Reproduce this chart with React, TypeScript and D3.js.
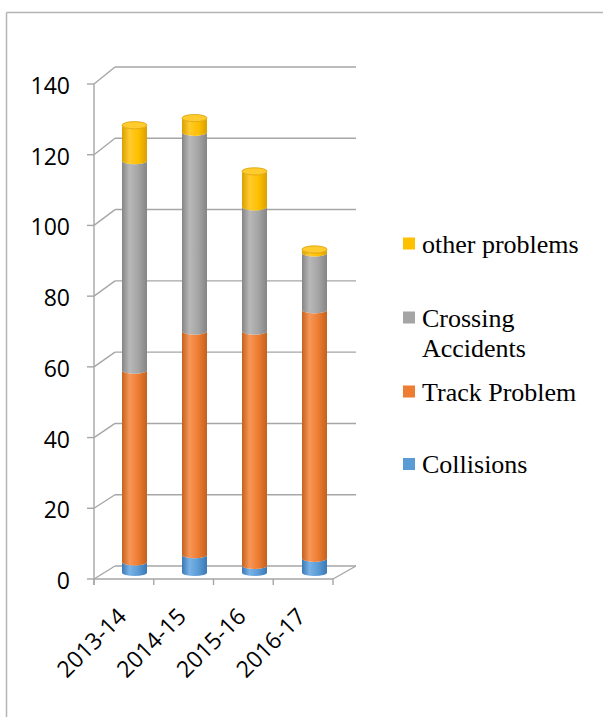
import React from "react";
import * as d3 from "d3";

const categories = ["2013-14", "2014-15", "2015-16", "2016-17"];
const collisions = [3, 5, 2, 4];
const trackProblem = [54, 63, 66, 70];
const crossingAccidents = [59, 56, 35, 16];
const otherProblems = [10, 4, 10, 1];
const yTicks = [0, 20, 40, 60, 80, 100, 120, 140];

const seriesKeys = ["collisions", "track", "crossing", "other"];
const seriesNames = ["Collisions", "Track Problem", "Crossing Accidents", "other problems"];
const seriesColors = ["#5B9BD5", "#ED7D31", "#A5A5A5", "#FFC000"];
const seriesEdge = ["#3B78B4", "#C4611D", "#858585", "#D9A000"];
const seriesLight = ["#78B2E6", "#F79657", "#B8B8B8", "#FFCB2E"];

const rows = categories.map((c, i) => ({
  cat: c,
  collisions: collisions[i],
  track: trackProblem[i],
  crossing: crossingAccidents[i],
  other: otherProblems[i],
}));

export default function App() {
  const W = 603;
  const H = 717;

  // front and back planes of the 3D plot box
  const frontX = d3.scaleBand<string>().domain(categories).range([94, 333]);
  const backX = d3.scaleBand<string>().domain(categories).range([115, 356]);
  const frontY = d3.scaleLinear().domain([0, 140]).range([579, 84]);
  const backY = d3.scaleLinear().domain([0, 140]).range([566, 67]);
  const midY = (v: number) => (frontY(v) + backY(v)) / 2;

  const stack = d3.stack<any>().keys(seriesKeys);
  const stacked = stack(rows);

  const rx = 12.5;
  const ry = 3.6;
  const grid = "#A6A6A6";

  const segPath = (cx: number, y0: number, y1: number) =>
    `M${cx - rx},${y1} L${cx - rx},${y0} A${rx},${ry} 0 0 0 ${cx + rx},${y0} L${cx + rx},${y1} A${rx},${ry} 0 0 1 ${cx - rx},${y1} Z`;

  const legendItems = [
    { i: 3, y: 243.5, lines: ["other problems"] },
    { i: 2, y: 317.5, lines: ["Crossing", "Accidents"] },
    { i: 1, y: 391.5, lines: ["Track Problem"] },
    { i: 0, y: 464, lines: ["Collisions"] },
  ];

  return (
    <svg
      width={W}
      height={H}
      style={{ position: "absolute", left: 0, top: 0, background: "#fff" }}
    >
      <defs>
        {seriesKeys.map((k, i) => (
          <linearGradient key={k} id={`g-${k}`} x1="0" x2="1" y1="0" y2="0">
            <stop offset="0" stopColor={seriesEdge[i]} />
            <stop offset="0.3" stopColor={seriesLight[i]} />
            <stop offset="0.65" stopColor={seriesColors[i]} />
            <stop offset="1" stopColor={seriesEdge[i]} />
          </linearGradient>
        ))}
      </defs>

      {/* outer frame */}
      <line x1={6.5} y1={12.5} x2={W} y2={12.5} stroke="#B4B4B4" strokeWidth={1.5} />
      <line x1={6.5} y1={12.5} x2={6.5} y2={H} stroke="#B4B4B4" strokeWidth={1.5} />

      {/* back wall gridlines and side wall diagonals */}
      {yTicks.map((t) => (
        <g key={t}>
          <line
            x1={backX.range()[0]}
            x2={backX.range()[1]}
            y1={backY(t)}
            y2={backY(t)}
            stroke={grid}
            strokeWidth={1.4}
          />
          <line
            x1={frontX.range()[0]}
            y1={frontY(t)}
            x2={backX.range()[0]}
            y2={backY(t)}
            stroke={grid}
            strokeWidth={1.4}
          />
          <line
            x1={frontX.range()[0] - 7}
            x2={frontX.range()[0]}
            y1={frontY(t)}
            y2={frontY(t)}
            stroke={grid}
            strokeWidth={1.4}
          />
          <text
            x={70}
            y={frontY(t) + 2}
            dy="0.35em"
            textAnchor="end"
            fontFamily="'Open Sans', sans-serif"
            fontSize={23}
            fill="#000"
          >
            {t}
          </text>
        </g>
      ))}

      {/* vertical axis line */}
      <line
        x1={frontX.range()[0]}
        x2={frontX.range()[0]}
        y1={frontY(140)}
        y2={frontY(0) + 6}
        stroke={grid}
        strokeWidth={1.4}
      />

      {/* floor */}
      <line
        x1={frontX.range()[0]}
        x2={frontX.range()[1]}
        y1={frontY(0)}
        y2={frontY(0)}
        stroke={grid}
        strokeWidth={1.4}
      />
      <line
        x1={frontX.range()[1]}
        y1={frontY(0)}
        x2={backX.range()[1]}
        y2={backY(0)}
        stroke={grid}
        strokeWidth={1.4}
      />

      {/* category ticks and labels */}
      {[...categories.map((c) => frontX(c)!), frontX.range()[1]].map((x, i) => (
        <line key={i} x1={x} x2={x} y1={frontY(0)} y2={frontY(0) + 6} stroke={grid} strokeWidth={1.4} />
      ))}
      {categories.map((c) => {
        const cx = frontX(c)! + frontX.bandwidth() / 2;
        return (
          <text
            key={c}
            transform={`translate(${cx + 4},618) rotate(-45)`}
            textAnchor="end"
            fontFamily="'Open Sans', sans-serif"
            fontSize={23}
            fill="#000"
          >
            {c}
          </text>
        );
      })}

      {/* stacked cylinders */}
      {categories.map((c, ci) => {
        const cx =
          (frontX(c)! + frontX.bandwidth() / 2 + backX(c)! + backX.bandwidth() / 2) / 2;
        const topIdx = seriesKeys.length - 1;
        const top = stacked[topIdx][ci][1];
        return (
          <g key={c}>
            {stacked.map((s, si) => {
              const [v0, v1] = s[ci];
              return (
                <path
                  key={s.key}
                  d={segPath(cx, midY(v0), midY(v1))}
                  fill={`url(#g-${s.key})`}
                />
              );
            })}
            <ellipse
              cx={cx}
              cy={midY(top)}
              rx={rx}
              ry={ry}
              fill={seriesLight[topIdx]}
              stroke={seriesEdge[topIdx]}
              strokeWidth={0.8}
            />
          </g>
        );
      })}

      {/* legend */}
      {legendItems.map((it) => (
        <g key={it.i}>
          <rect x={403} y={it.y - 6} width={12} height={12} fill={seriesColors[it.i]} />
          {it.lines.map((ln, li) => (
            <text
              key={li}
              x={422}
              y={it.y + 9 + li * 30}
              fontFamily="'Liberation Serif', 'Times New Roman', serif"
              fontSize={26}
              fill="#000"
            >
              {ln}
            </text>
          ))}
        </g>
      ))}
    </svg>
  );
}
